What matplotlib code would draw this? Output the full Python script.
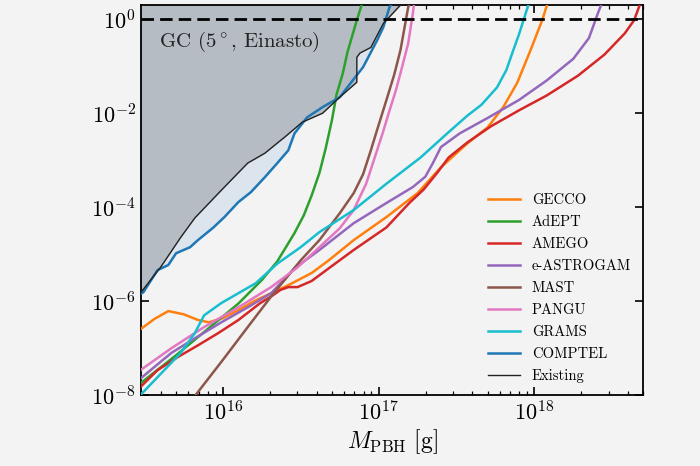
import numpy as np
import matplotlib
matplotlib.use("Agg")
import matplotlib.pyplot as plt
from matplotlib.ticker import FixedLocator, LogLocator, NullLocator

# Schriften im LaTeX-Stil
plt.rcParams['font.family'] = 'serif'
plt.rcParams['font.serif'] = ['cmr10']
plt.rcParams['mathtext.fontset'] = 'cm'
plt.rcParams['axes.formatter.use_mathtext'] = True

# Daten (log10 M [g], log10 f_PBH)
gecco_lgm = [15.47, 15.56, 15.65, 15.75, 15.84, 15.91, 16.0, 16.10, 16.20, 16.31,
             16.42, 16.57, 16.68, 16.84, 17.05, 17.25, 17.40, 17.57, 17.70, 17.80,
             17.89, 17.97, 18.05, 18.09]
gecco_lgf = [-6.6, -6.38, -6.21, -6.28, -6.4, -6.45, -6.36, -6.19, -6.0, -5.83,
             -5.66, -5.40, -5.13, -4.70, -4.21, -3.70, -3.15, -2.64, -2.30, -1.87,
             -1.35, -0.7, -0.02, 0.4]

adept_lgm = [15.47, 15.7, 15.9, 16.1, 16.25, 16.35, 16.46, 16.52, 16.57, 16.62,
             16.66, 16.70, 16.73, 16.77, 16.80, 16.86, 16.9]
adept_lgf = [-7.75, -7.15, -6.6, -6.05, -5.55, -5.15, -4.55, -4.17, -3.75, -3.27,
             -2.75, -2.15, -1.6, -1.15, -0.7, -0.02, 0.4]

amego_lgm = [15.47, 15.58, 15.71, 15.84, 15.97, 16.10, 16.24, 16.31, 16.37, 16.42,
             16.48, 16.57, 16.68, 16.84, 17.05, 17.20, 17.29, 17.38, 17.45, 17.57,
             17.72, 17.90, 18.08, 18.28, 18.45, 18.58, 18.64, 18.68]
amego_lgf = [-7.83, -7.47, -7.19, -6.94, -6.68, -6.40, -6.04, -5.90, -5.76, -5.70,
             -5.70, -5.57, -5.30, -4.91, -4.43, -3.90, -3.62, -3.25, -2.94, -2.62,
             -2.28, -1.94, -1.62, -1.2, -0.75, -0.3, -0.02, 0.34]

eastro_lgm = [15.47, 15.67, 15.82, 15.99, 16.16, 16.31, 16.46, 16.62, 16.84, 17.05,
              17.22, 17.30, 17.35, 17.40, 17.52, 17.70, 17.90, 18.08, 18.25, 18.35,
              18.41, 18.44]
eastro_lgf = [-7.65, -7.1, -6.79, -6.45, -6.13, -5.83, -5.3, -4.91, -4.34, -3.91,
              -3.57, -3.35, -3.05, -2.72, -2.43, -2.1, -1.72, -1.30, -0.84, -0.4,
              0.15, 0.4]

mast_lgm = [15.82, 16.0, 16.16, 16.31, 16.50, 16.62, 16.75, 16.84, 16.90, 16.95,
            17.0, 17.05, 17.10, 17.14, 17.19, 17.21]
mast_lgf = [-8.02, -7.25, -6.55, -5.9, -5.13, -4.70, -4.13, -3.7, -3.3, -2.79,
            -2.25, -1.72, -1.18, -0.66, 0.26, 0.4]

pangu_lgm = [15.47, 15.67, 15.88, 16.10, 16.31, 16.48, 16.62, 16.75, 16.84, 16.92,
             16.99, 17.03, 17.07, 17.11, 17.14, 17.19, 17.22, 17.23]
pangu_lgf = [-7.47, -7.0, -6.55, -6.13, -5.70, -5.28, -4.85, -4.45, -4.06, -3.5,
             -2.79, -2.38, -1.94, -1.52, -1.15, -0.51, 0.13, 0.4]

grams_lgm = [15.47, 15.58, 15.73, 15.82, 15.88, 15.99, 16.10, 16.21, 16.35, 16.50,
             16.62, 16.84, 17.05, 17.27, 17.44, 17.57, 17.66, 17.76, 17.82, 17.86,
             17.90, 17.93, 17.97]
grams_lgf = [-8.0, -7.62, -7.1, -6.68, -6.30, -6.04, -5.83, -5.62, -5.2, -4.85,
             -4.53, -4.06, -3.5, -2.94, -2.43, -2.05, -1.82, -1.45, -1.08, -0.7,
             -0.33, -0.02, 0.4]

comptel_lgm = [15.47, 15.49, 15.58, 15.65, 15.70, 15.79, 15.84, 15.94, 16.01, 16.10,
               16.18, 16.27, 16.35, 16.42, 16.46, 16.54, 16.64, 16.75, 16.82, 16.90,
               16.99, 17.03, 17.07, 17.10]
comptel_lgf = [-5.85, -5.81, -5.34, -5.23, -4.98, -4.85, -4.70, -4.43, -4.21, -3.89,
               -3.68, -3.36, -3.06, -2.79, -2.43, -2.09, -1.87, -1.66, -1.36, -1.02,
               -0.45, -0.17, 0.26, 0.4]

exist_lgm = [15.47, 15.60, 15.73, 15.82, 15.99, 16.16, 16.27, 16.40, 16.51, 16.64,
             16.75, 16.86, 16.86, 16.88, 16.95, 17.03, 17.14]
exist_lgf = [-5.83, -5.28, -4.64, -4.23, -3.64, -3.06, -2.85, -2.5, -2.19, -2.0,
             -1.66, -1.34, -0.81, -0.72, -0.6, -0.09, 0.3]

kurven = [
    ("GECCO", gecco_lgm, gecco_lgf, "#ff7f0e"),
    ("AdEPT", adept_lgm, adept_lgf, "#2ca02c"),
    ("AMEGO", amego_lgm, amego_lgf, "#d62728"),
    ("e-ASTROGAM", eastro_lgm, eastro_lgf, "#9467bd"),
    ("MAST", mast_lgm, mast_lgf, "#8c564b"),
    ("PANGU", pangu_lgm, pangu_lgf, "#e377c2"),
    ("GRAMS", grams_lgm, grams_lgf, "#17becf"),
    ("COMPTEL", comptel_lgm, comptel_lgf, "#1f77b4"),
]

bg = "#f3f3f3"
fig = plt.figure(figsize=(7, 4.66), dpi=100, facecolor=bg)
ax = fig.add_axes([0.201, 0.152, 0.718, 0.837])
ax.set_facecolor(bg)

# Ausgeschlossene Bereiche
c_m = 10**np.array(comptel_lgm)
c_f = 10**np.array(comptel_lgf)
e_m = 10**np.array(exist_lgm)
e_f = 10**np.array(exist_lgf)
ax.fill_between(c_m, c_f, 10, color="#dce5ee", lw=0, zorder=1)
ax.fill_between(e_m, e_f, 10, color="#b5bcc3", lw=0, zorder=2)

for name, lgm, lgf, col in kurven:
    ax.plot(10**np.array(lgm), 10**np.array(lgf), color=col, lw=1.8,
            label=name, zorder=3)
ax.plot(e_m, e_f, color="#222222", lw=1.0, label="Existing", zorder=4)

# f_PBH = 1
ax.axhline(1, color="black", lw=2, ls=(0, (4.5, 2.2)), zorder=5)

ax.set_xscale("log")
ax.set_yscale("log")
ax.set_xlim(2.97e15, 5.0e18)
ax.set_ylim(1e-8, 2)

ax.xaxis.set_major_locator(FixedLocator([1e16, 1e17, 1e18]))
ax.xaxis.set_minor_locator(LogLocator(base=10, subs=np.arange(2, 10)))
ax.yaxis.set_major_locator(FixedLocator([1e-8, 1e-6, 1e-4, 1e-2, 1e0]))
ax.yaxis.set_minor_locator(NullLocator())
ax.tick_params(which="both", direction="in", top=True, right=True,
               labelsize=16)
ax.tick_params(which="major", length=6, width=1.2)
ax.tick_params(which="minor", length=3, width=0.9)
for s in ax.spines.values():
    s.set_linewidth(1.3)

ax.set_xlabel(r"$M_{\mathrm{PBH}}\ [\mathrm{g}]$", fontsize=17, labelpad=2)
ax.text(0.037, 0.905, r"GC ($5^\circ$, Einasto)", transform=ax.transAxes,
        fontsize=15, va="center", ha="left", color="#222222", zorder=6)

ax.legend(loc="lower right", frameon=False, fontsize=10.5, handlelength=2.2,
          labelspacing=0.56, borderaxespad=0.45)

fig.savefig("out.png", dpi=100, facecolor=bg)
